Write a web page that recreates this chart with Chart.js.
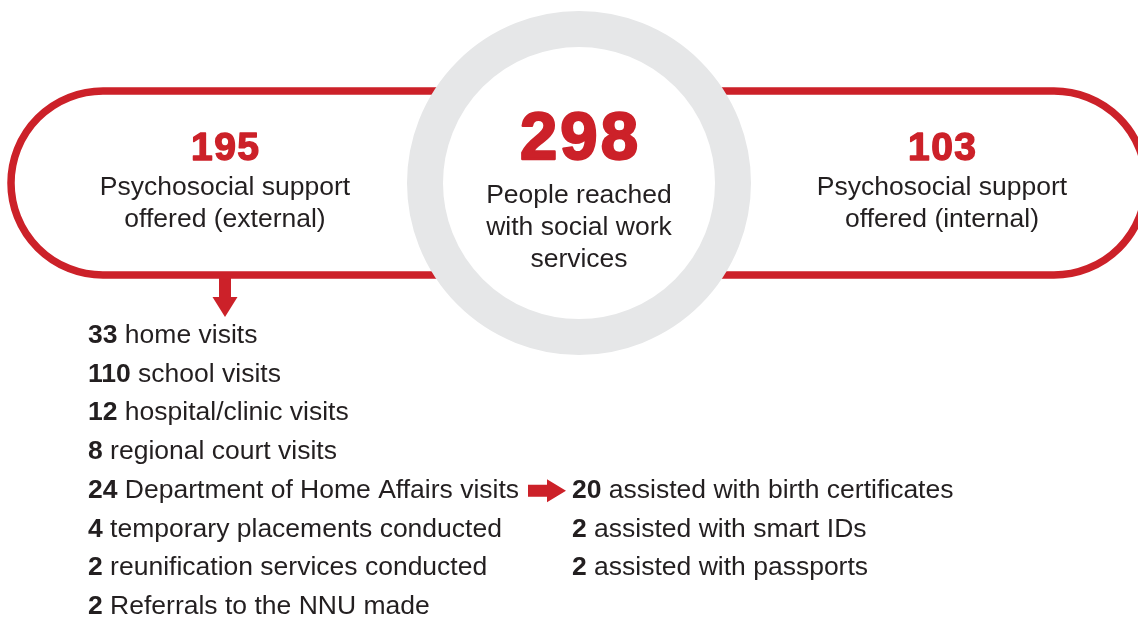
<!DOCTYPE html>
<html>
<head>
<meta charset="utf-8">
<title>Social work services</title>
<script src="https://cdn.jsdelivr.net/npm/chart.js@4.4.0/dist/chart.umd.min.js"></script>
<style>
    html, body { margin: 0; padding: 0; background: #ffffff; }
    #wrap { position: relative; width: 1138px; height: 617px; }
</style>
</head>
<body>
<div id="wrap"><canvas id="socialChart"></canvas></div>
<script>
// Headline figures: left pill, centre ring, right pill
const headlineValues = [195, 298, 103];
const headlineLabels = [
    ['Psychosocial support', 'offered (external)'],
    ['People reached', 'with social work', 'services'],
    ['Psychosocial support', 'offered (internal)']
];

// Breakdown of external support
const visitCounts = [33, 110, 12, 8, 24, 4, 2, 2];
const visitLabels = [
    'home visits',
    'school visits',
    'hospital/clinic visits',
    'regional court visits',
    'Department of Home Affairs visits',
    'temporary placements conducted',
    'reunification services conducted',
    'Referrals to the NNU made'
];

// Home Affairs outcomes
const homeAffairsCounts = [20, 2, 2];
const homeAffairsLabels = [
    'assisted with birth certificates',
    'assisted with smart IDs',
    'assisted with passports'
];

const RED = '#cc2129';
const GREY = '#e6e7e8';
const INK = '#231f20';
const FONT = '"Liberation Sans", Arial, Helvetica, sans-serif';

// layout in page units (the hidden scales map these 1:1 to pixels)
const ringCentre = { x: 579, y: 183 };
const pillTop = 91, pillBottom = 275, pillRadius = 92;
const leftArcX = 103, rightArcX = 1054;
const headlineX = [225, 579, 942];
const listX = 88, listTop = 343, rowGap = 38.7;
const subListX = 572, subListRow = 4;

function drawPills(chart) {
    const ctx = chart.ctx;
    const xs = chart.scales.x, ys = chart.scales.y;
    const px = v => xs.getPixelForValue(v);
    const py = v => ys.getPixelForValue(v);
    const r = px(pillRadius) - px(0);
    const cy = py((pillTop + pillBottom) / 2);

    ctx.save();
    ctx.strokeStyle = RED;
    ctx.lineWidth = 7.5;

    ctx.beginPath();
    ctx.moveTo(px(450), py(pillTop));
    ctx.lineTo(px(leftArcX), py(pillTop));
    ctx.arc(px(leftArcX), cy, r, -Math.PI / 2, Math.PI / 2, true);
    ctx.lineTo(px(450), py(pillBottom));
    ctx.stroke();

    ctx.beginPath();
    ctx.moveTo(px(710), py(pillTop));
    ctx.lineTo(px(rightArcX), py(pillTop));
    ctx.arc(px(rightArcX), cy, r, -Math.PI / 2, Math.PI / 2, false);
    ctx.lineTo(px(710), py(pillBottom));
    ctx.stroke();
    ctx.restore();
}

function drawArrows(chart) {
    const ctx = chart.ctx;
    const xs = chart.scales.x, ys = chart.scales.y;
    const px = v => xs.getPixelForValue(v);
    const py = v => ys.getPixelForValue(v);

    ctx.save();
    ctx.fillStyle = RED;
    // down arrow out of the left pill
    ctx.beginPath();
    ctx.moveTo(px(219), py(pillBottom));
    ctx.lineTo(px(231), py(pillBottom));
    ctx.lineTo(px(231), py(297));
    ctx.lineTo(px(237.5), py(297));
    ctx.lineTo(px(225), py(317));
    ctx.lineTo(px(212.5), py(297));
    ctx.lineTo(px(219), py(297));
    ctx.closePath();
    ctx.fill();

    // right arrow to the Home Affairs breakdown
    const ay = listTop + subListRow * rowGap - 7;
    ctx.beginPath();
    ctx.moveTo(px(528), py(ay - 6));
    ctx.lineTo(px(547), py(ay - 6));
    ctx.lineTo(px(547), py(ay - 11.5));
    ctx.lineTo(px(566), py(ay));
    ctx.lineTo(px(547), py(ay + 11.5));
    ctx.lineTo(px(547), py(ay + 6));
    ctx.lineTo(px(528), py(ay + 6));
    ctx.closePath();
    ctx.fill();
    ctx.restore();
}

function drawListRow(ctx, x, y, count, label) {
    ctx.font = 'bold 26.5px ' + FONT;
    ctx.fillText(String(count), x, y);
    const w = ctx.measureText(String(count)).width;
    ctx.font = '26.5px ' + FONT;
    ctx.fillText(' ' + label, x + w, y);
}

function drawTexts(chart) {
    const ctx = chart.ctx;
    const xs = chart.scales.x, ys = chart.scales.y;
    const px = v => xs.getPixelForValue(v);
    const py = v => ys.getPixelForValue(v);

    ctx.save();
    ctx.textBaseline = 'alphabetic';
    ctx.lineJoin = 'round';

    // headline numbers (heavy weight faked with a stroke) and captions
    ctx.textAlign = 'center';
    headlineValues.forEach(function(val, i) {
        const big = i === 1;
        const spacing = big ? 3 : 1.5;
        const hx = px(headlineX[i]) + spacing / 2;
        const hy = py(big ? 159 : 159.5);
        ctx.fillStyle = RED;
        ctx.strokeStyle = RED;
        ctx.lineWidth = big ? 2.4 : 1.4;
        ctx.letterSpacing = spacing + 'px';
        ctx.font = (big ? 'bold 67px ' : 'bold 39px ') + FONT;
        ctx.fillText(String(val), hx, hy);
        ctx.strokeText(String(val), hx, hy);
        ctx.letterSpacing = '0px';

        ctx.fillStyle = INK;
        ctx.font = '26.5px ' + FONT;
        const firstLine = big ? 203 : 195;
        headlineLabels[i].forEach(function(line, j) {
            ctx.fillText(line, px(headlineX[i]), py(firstLine + j * 32));
        });
    });

    // lists
    ctx.textAlign = 'left';
    ctx.fillStyle = INK;
    visitCounts.forEach(function(n, i) {
        drawListRow(ctx, px(listX), py(listTop + i * rowGap), n, visitLabels[i]);
    });
    homeAffairsCounts.forEach(function(n, i) {
        drawListRow(ctx, px(subListX), py(listTop + (subListRow + i) * rowGap), n, homeAffairsLabels[i]);
    });
    ctx.restore();
}

const infographic = {
    id: 'infographic',
    beforeDatasetsDraw: function(chart) {
        drawPills(chart);
    },
    afterDatasetsDraw: function(chart) {
        drawArrows(chart);
        drawTexts(chart);
    }
};

document.addEventListener('DOMContentLoaded', function() {
    const ctx = document.getElementById('socialChart').getContext('2d');
    new Chart(ctx, {
        type: 'scatter',
        data: {
            datasets: [{
                label: 'People reached',
                data: [{ x: ringCentre.x, y: ringCentre.y, v: headlineValues[1] }],
                pointRadius: 154,
                pointHoverRadius: 154,
                pointBorderWidth: 36,
                pointHoverBorderWidth: 36,
                borderColor: GREY,
                backgroundColor: '#ffffff',
                pointBackgroundColor: '#ffffff',
                pointBorderColor: GREY
            }]
        },
        options: {
            responsive: true,
            maintainAspectRatio: false,
            animation: false,
            layout: { padding: 0, autoPadding: false },
            clip: false,
            events: [],
            plugins: {
                legend: { display: false },
                tooltip: { enabled: false }
            },
            scales: {
                x: { type: 'linear', min: 0, max: 1138, display: false },
                y: { type: 'linear', min: 0, max: 617, reverse: true, display: false }
            }
        },
        plugins: [infographic]
    });
});
</script>
</body>
</html>
